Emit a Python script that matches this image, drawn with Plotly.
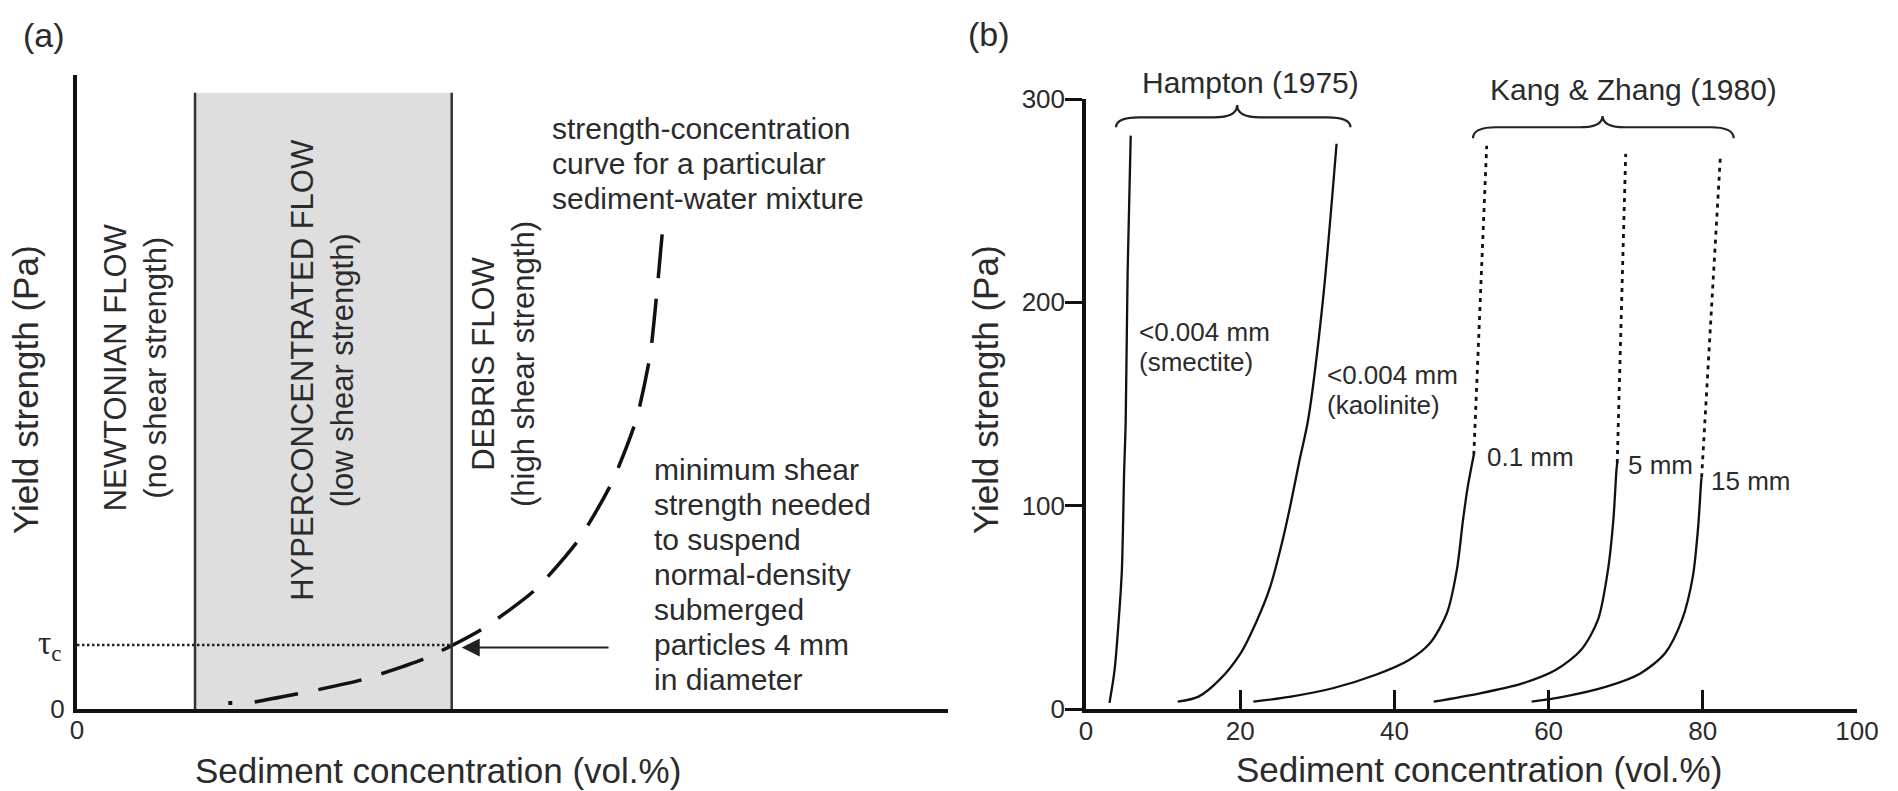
import plotly.graph_objects as go

# ---------------- data ----------------
# Panel (a): schematic strength-concentration curve (arbitrary units, 0-100 both axes)
curve_a_x = [20.4, 25.4, 32.7, 40.0, 46.5, 52.6, 57.6, 61.4, 64.2, 65.8, 66.6, 67.3]
curve_a_y = [1.1, 2.4, 4.6, 8.0, 12.6, 18.8, 26.7, 35.7, 45.6, 55.8, 66.1, 76.7]
curve_a_start = (17.6, 0.95)
hyper_range = [13.55, 43.02]     # hyperconcentrated-flow band (concentration)
hyper_top = 97.2
tau_c = 10.1
arrow_tail_x = 61.2

# Panel (b): yield strength (Pa) vs sediment concentration (vol.%)
smectite_x = [3.05, 3.7, 4.25, 4.65, 4.95, 5.15, 5.4, 5.8]
smectite_y = [3.0, 19, 44, 68, 117, 142, 215, 282]
kaolinite_x = [11.9, 14.6, 17.3, 20.05, 22.2, 23.9, 25.5, 26.5, 27.7, 28.8, 30.7, 32.5]
kaolinite_y = [3.6, 6.1, 14.3, 27.4, 43.8, 60.2, 83, 100, 122.5, 142, 200, 278]
mm01_x = [21.7, 26.6, 32.0, 37.5, 41.9, 44.6, 46.8, 48.1, 48.9, 49.5, 50.3]
mm01_y = [3.6, 6.1, 10.2, 16.7, 24.1, 32.3, 47, 68.4, 93, 109, 125]
mm01_ext_x = [50.3, 51.97]
mm01_ext_y = [125, 277]
mm5_x = [45.1, 51.1, 56.6, 60.9, 64.2, 66.4, 67.7, 68.4, 68.8, 68.9]
mm5_y = [3.6, 7.7, 12.6, 19.2, 29, 43.8, 68.4, 93, 117.5, 121]
mm5_ext_x = [68.9, 70.0]
mm5_ext_y = [121, 273]
mm15_x = [57.8, 62.0, 67.5, 71.9, 75.1, 77.3, 78.7, 79.4, 79.8, 79.85]
mm15_y = [3.6, 6.1, 11.0, 17.5, 27.4, 43.8, 65, 89.7, 112.6, 114]
mm15_ext_x = [79.85, 82.3]
mm15_ext_y = [114, 273]

x_ticks_b = [0, 20, 40, 60, 80, 100]
y_ticks_b = [0, 100, 200, 300]

# braces: (x_left, x_right, x_center, y_ends, y_line, y_tip)
brace_hampton = (3.9, 34.3, 19.6, 286.1, 291.0, 297.1)
brace_kang = (50.2, 84.0, 67.0, 280.7, 286.1, 291.7)

# ---------------- styling ----------------
W, H = 1898, 791
FONT = "Liberation Sans, Arial, Helvetica, sans-serif"
TXT = "#2b2b2b"
LN = "#111111"

def fx(p):
    return p / W

def fy(p):
    return 1 - p / H

# axis-line pixel positions in the reference
a_left, a_right, a_bottom, a_top = 77, 948, 709, 75
b_left, b_right, b_bottom, b_top = 1086, 1857, 709, 99
b3_top = 30

fig = go.Figure()

# ---- panel (a) traces ----
fig.add_trace(go.Scatter(x=curve_a_x, y=curve_a_y, mode="lines",
                         line=dict(color=LN, width=3.5, dash="44px,21px", shape="spline", smoothing=0.6),
                         xaxis="x", yaxis="y", hoverinfo="skip"))
fig.add_trace(go.Scatter(x=[curve_a_start[0]], y=[curve_a_start[1]], mode="markers",
                         marker=dict(color=LN, size=4, symbol="square"),
                         xaxis="x", yaxis="y", hoverinfo="skip"))

# ---- panel (b) traces ----
for xs, ys in [(smectite_x, smectite_y), (kaolinite_x, kaolinite_y), (mm01_x, mm01_y),
               (mm5_x, mm5_y), (mm15_x, mm15_y)]:
    fig.add_trace(go.Scatter(x=xs, y=ys, mode="lines",
                             line=dict(color=LN, width=2.3, shape="spline", smoothing=0.8),
                             xaxis="x2", yaxis="y2", hoverinfo="skip"))
for xs, ys in [(mm01_ext_x, mm01_ext_y), (mm5_ext_x, mm5_ext_y), (mm15_ext_x, mm15_ext_y)]:
    fig.add_trace(go.Scatter(x=xs, y=ys, mode="lines",
                             line=dict(color=LN, width=2.8, dash="4px,5px"),
                             xaxis="x2", yaxis="y2", hoverinfo="skip"))

# ---- shapes panel (a) ----
shapes = []
shapes.append(dict(type="rect", xref="x", yref="y", x0=hyper_range[0], x1=hyper_range[1],
                   y0=0, y1=hyper_top, fillcolor="#dedede", line=dict(width=0), layer="below"))
for xv in hyper_range:
    shapes.append(dict(type="line", xref="x", yref="y", x0=xv, x1=xv, y0=0, y1=hyper_top,
                       line=dict(color="#333333", width=2.5)))
shapes.append(dict(type="line", xref="x", yref="y", x0=0, x1=hyper_range[1], y0=tau_c, y1=tau_c,
                   line=dict(color="#222222", width=2.6, dash="2.5px,2.5px")))

# braces on an invisible overlay subplot with identical scale (avoids clipping)
def brace_path(b, w=3.0):
    x0, x1, xc, ye, yl, yt = b
    return (f"M {x0},{ye} Q {x0},{yl} {x0 + w},{yl} L {xc - w},{yl} "
            f"Q {xc},{yl} {xc},{yt} Q {xc},{yl} {xc + w},{yl} "
            f"L {x1 - w},{yl} Q {x1},{yl} {x1},{ye}")

for b in (brace_hampton, brace_kang):
    shapes.append(dict(type="path", xref="x3", yref="y3", path=brace_path(b),
                       line=dict(color="#222222", width=2.2)))

# ---- annotations ----
ann = []

def txt(text, x, y, xref, yref, size, xanchor="center", yanchor="middle", angle=0,
        yshift=0, xshift=0, family=FONT):
    ann.append(dict(text=text, x=x, y=y, xref=xref, yref=yref, showarrow=False,
                    xanchor=xanchor, yanchor=yanchor, textangle=angle, yshift=yshift,
                    xshift=xshift, font=dict(family=family, size=size, color=TXT)))

def lines(lst, x, y, xref, yref, size, spacing, xanchor="left"):
    for i, t in enumerate(lst):
        txt(t, x, y, xref, yref, size, xanchor=xanchor, yshift=-i * spacing)

# page-level texts placed on an invisible full-page overlay axis (pixel units)
txt("(a)", 43.5, 35, "x4", "y4", 34)
txt("(b)", 989, 34, "x4", "y4", 34)
txt("Yield strength (Pa)", 25, 390, "x4", "y4", 35, angle=-90)
txt("Yield strength (Pa)", 985, 390, "x4", "y4", 35, angle=-90)
txt("Sediment concentration (vol.%)", 437.5, 770, "x4", "y4", 35)
txt("Sediment concentration (vol.%)", 1479, 769, "x4", "y4", 35)

# panel (a) region labels
txt("NEWTONIAN FLOW<br>(no shear strength)", 6.66, 53.9, "x", "y", 31, angle=-90)
txt("HYPERCONCENTRATED FLOW<br>(low shear strength)", 28.24, 53.5, "x", "y", 31, angle=-90)
txt("DEBRIS FLOW<br>(high shear strength)", 48.9, 54.4, "x", "y", 31, angle=-90)

lines(["strength-concentration", "curve for a particular", "sediment-water mixture"],
      54.3, 91.6, "x", "y", 30, 35)
lines(["minimum shear", "strength needed", "to suspend", "normal-density",
       "submerged", "particles 4 mm", "in diameter"], 66.0, 37.7, "x", "y", 30, 35)

txt("τ<sub>c</sub>", 0, tau_c, "x", "y", 33, xanchor="right", xshift=-13, yshift=-1,
    family="Liberation Serif, Times New Roman, serif")

# arrow
ann.append(dict(x=hyper_range[1] + 1.15, y=9.7, xref="x", yref="y", ax=arrow_tail_x, ay=9.7,
                axref="x", ayref="y", text="", showarrow=True, arrowhead=2, arrowsize=1.8,
                arrowwidth=2, arrowcolor="#222222", standoff=0, startstandoff=0))

# panel (b) labels
txt("Hampton (1975)", 21.4, 307.9, "x3", "y3", 30)
txt("Kang &amp; Zhang (1980)", 71.05, 304.5, "x3", "y3", 30)
lines(["&lt;0.004 mm", "(smectite)"], 6.67, 185.6, "x2", "y2", 26, 30)
lines(["&lt;0.004 mm", "(kaolinite)"], 30.97, 164.3, "x2", "y2", 26, 30)
txt("0.1 mm", 51.8, 123.8, "x2", "y2", 26, xanchor="left")
txt("5 mm", 70.1, 119.8, "x2", "y2", 26, xanchor="left")
txt("15 mm", 80.85, 112.2, "x2", "y2", 26, xanchor="left")

# ---------------- layout ----------------
axis_common = dict(showgrid=False, zeroline=False, linecolor=LN, showline=True,
                   tickfont=dict(family=FONT, size=26, color=TXT), fixedrange=True,
                   automargin=False)

b_scale = (b_bottom - b_top) / 300.0
y3_range_top = (b_bottom - b3_top) / b_scale

fig.update_layout(
    width=W, height=H, autosize=False, margin=dict(l=0, r=0, t=0, b=0, pad=0, autoexpand=False),
    paper_bgcolor="white", plot_bgcolor="rgba(0,0,0,0)", showlegend=False,
    xaxis=dict(domain=[fx(a_left), fx(a_right)], range=[0, 100], anchor="y",
               tickvals=[0], ticktext=["0"], ticks="", linewidth=4, ticklabelstandoff=-5,
               **axis_common),
    yaxis=dict(domain=[fy(a_bottom), fy(a_top)], range=[0, 100], anchor="x",
               tickvals=[0], ticktext=["0"], ticks="", linewidth=4, ticklabelstandoff=3,
               **axis_common),
    xaxis2=dict(domain=[fx(b_left), fx(b_right)], range=[0, 100], anchor="y2",
                tickvals=x_ticks_b, ticks="inside", ticklen=19, tickwidth=2.5, tickcolor=LN,
                linewidth=3.5, ticklabelstandoff=-4, **axis_common),
    yaxis2=dict(domain=[fy(b_bottom), fy(b_top)], range=[0, 300], anchor="x2",
                tickvals=y_ticks_b, ticks="outside", ticklen=17, tickwidth=2.5, tickcolor=LN,
                linewidth=3.5, ticklabelstandoff=-5, **axis_common),
    xaxis3=dict(domain=[fx(b_left), fx(b_right)], range=[0, 100], anchor="y3",
                visible=False, fixedrange=True),
    yaxis3=dict(domain=[fy(b_bottom), fy(b3_top)], range=[0, y3_range_top], anchor="x3",
                visible=False, fixedrange=True),
    xaxis4=dict(domain=[0, 1], range=[0, W], anchor="y4", visible=False, fixedrange=True),
    yaxis4=dict(domain=[0, 1], range=[H, 0], anchor="x4", visible=False, fixedrange=True),
    shapes=shapes, annotations=ann,
)

fig.write_html("out.html", config={"displayModeBar": False})
